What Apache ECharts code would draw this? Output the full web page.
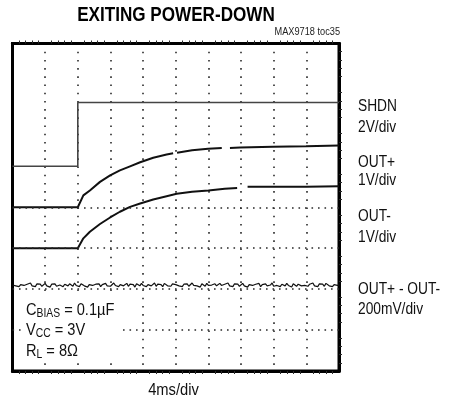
<!DOCTYPE html>
<html>
<head>
<meta charset="utf-8">
<script src="https://cdn.jsdelivr.net/npm/echarts@6/dist/echarts.min.js"></script>
<style>
html,body{margin:0;padding:0;background:#fff;}
#chart{width:453px;height:406px;}
</style>
</head>
<body>
<div id="chart"></div>
<script>
// Time axis in divisions (4 ms/div), vertical axis in divisions
var shdnT = [0, 2.0, 2.0, 10];
var shdnV = [5.0, 5.0, 6.56, 6.56];

var outPT = [0, 2.0, 2.17, 2.37, 2.68, 2.99, 3.29, 3.60, 3.91, 4.31, 4.72, 4.92, 4.98, 5.04, 5.5, 5.99, 6.41, 6.53, 6.66, 6.97, 7.98, 8.99, 10];
var outPV = [4.0, 4.0, 4.29, 4.41, 4.62, 4.78, 4.90, 5.00, 5.10, 5.21, 5.29, 5.32, null, 5.33, 5.39, 5.43, 5.45, null, 5.45, 5.46, 5.48, 5.49, 5.51];

var outMT = [0, 2.0, 2.17, 2.37, 2.68, 2.99, 3.29, 3.60, 3.91, 4.31, 4.72, 5.03, 5.5, 6.0, 6.5, 6.88, 7.04, 7.2, 8.0, 9.0, 10];
var outMV = [3.0, 3.0, 3.24, 3.40, 3.59, 3.75, 3.89, 4.01, 4.09, 4.19, 4.27, 4.33, 4.38, 4.41, 4.45, 4.47, null, 4.50, 4.50, 4.50, 4.51];

var diffStep = 0.05;
var diffV = [
2.10,2.13,2.08,2.12,2.06,2.11,2.14,2.09,2.07,2.12,2.10,2.15,2.08,2.11,2.06,2.13,2.09,2.12,2.07,2.10,
2.14,2.08,2.11,2.05,2.12,2.09,2.13,2.07,2.11,2.10,2.14,2.06,2.12,2.09,2.08,2.13,2.10,2.07,2.15,2.09,
2.11,2.06,2.13,2.10,2.08,2.12,2.05,2.11,2.14,2.09,2.07,2.12,2.10,2.13,2.06,2.11,2.09,2.14,2.08,2.12,
2.07,2.10,2.15,2.09,2.12,2.06,2.11,2.13,2.08,2.10,2.14,2.07,2.12,2.09,2.11,2.05,2.13,2.10,2.08,2.14,
2.09,2.12,2.06,2.11,2.13,2.08,2.10,2.15,2.07,2.12,2.09,2.11,2.06,2.14,2.10,2.08,2.12,2.07,2.13,2.09,
2.11,2.14,2.08,2.10,2.06,2.12,2.09,2.13,2.07,2.11,2.15,2.09,2.12,2.08,2.10,2.05,2.13,2.11,2.07,2.14,
2.09,2.12,2.10,2.06,2.13,2.08,2.11,2.14,2.09,2.07,2.12,2.10,2.15,2.08,2.11,2.06,2.13,2.09,2.12,2.07,
2.10,2.14,2.08,2.12,2.05,2.11,2.13,2.09,2.07,2.12,2.10,2.14,2.06,2.11,2.09,2.13,2.08,2.12,2.10,2.15,
2.07,2.11,2.09,2.13,2.06,2.12,2.10,2.08,2.14,2.09,2.11,2.05,2.13,2.10,2.07,2.12,2.14,2.08,2.11,2.09,
2.13,2.07,2.12,2.10,2.15,2.08,2.11,2.06,2.13,2.09,2.12,2.07,2.14,2.10,2.08,2.12,2.06,2.11,2.13,2.09,
2.11];

var hGridRows = [1, 2, 3, 4];

var rightLabels = ['SHDN', '2V/div', 'OUT+', '1V/div', 'OUT-', '1V/div', 'OUT+ - OUT-', '200mV/div'];
var rightLabelY = [107, 128, 163, 181, 217, 238, 289.5, 309.5];

var FONT = '"Liberation Sans", Arial, sans-serif';
var NARROW = 0.86;

function pairs(t, v) {
  return t.map(function (x, i) { return [x, v[i] === null ? '-' : v[i]]; });
}
var diffData = diffV.map(function (v, i) { return [+(i * diffStep).toFixed(2), v]; });

var chart = echarts.init(document.getElementById('chart'), null, {renderer: 'canvas'});

var dotColor = '#2a2a2a';
var frameLine = {show: true, onZero: false, lineStyle: {color: '#000', width: 3}};
var graphics = [
  {type: 'text', x: 176, y: 15, scaleX: 0.855, z: 60,
   style: {text: 'EXITING POWER-DOWN', font: 'bold 20px ' + FONT, fill: '#000',
           align: 'center', verticalAlign: 'middle'}},
  {type: 'text', x: 340, y: 32.5, scaleX: 0.92, z: 60,
   style: {text: 'MAX9718 toc35', font: '10px ' + FONT, fill: '#222',
           align: 'right', verticalAlign: 'middle'}},
  {type: 'text', x: 173.5, y: 391, scaleX: 0.92, z: 60,
   style: {text: '4ms/div', font: '16px ' + FONT, fill: '#111',
           align: 'center', verticalAlign: 'middle'}},
  {type: 'rect', z: 50, shape: {x: 22, y: 296, width: 100, height: 66},
   style: {fill: '#fff'}},
  {type: 'text', x: 26, y: 300, scaleX: NARROW, z: 60,
   style: {
     text: '{m|C}{s|BIAS}{m| = 0.1µF}\n{m|V}{s|CC}{m| = 3V}\n{m|R}{s|L}{m| = 8Ω}',
     verticalAlign: 'top',
     rich: {
       m: {fontSize: 17, fontFamily: FONT, fill: '#111', lineHeight: 20.5},
       s: {fontSize: 12, fontFamily: FONT, fill: '#111', lineHeight: 20.5, padding: [6, 0, 0, 0]}
     }
   }}
];
rightLabels.forEach(function (t, i) {
  graphics.push({type: 'text', x: 358, y: rightLabelY[i], scaleX: NARROW, z: 60,
    style: {text: t, font: '16px ' + FONT, fill: '#111', verticalAlign: 'middle'}});
});

chart.setOption({
  animation: false,
  backgroundColor: '#fff',
  grid: {left: 12.5, top: 43.5, width: 326.5, height: 327.5, show: true,
         borderColor: '#000', borderWidth: 3, backgroundColor: 'transparent'},
  xAxis: [{
    type: 'value', min: 0, max: 10, interval: 1, position: 'bottom',
    axisLine: frameLine, axisLabel: {show: false},
    axisTick: {show: false},
    minorTick: {show: true, splitNumber: 5, length: 3, lineStyle: {color: dotColor, width: 1}},
    splitLine: {show: true, lineStyle: {color: dotColor, width: 1.6, type: [1.6, 6.6]}}
  }, {
    type: 'value', min: 0, max: 10, interval: 1, position: 'top',
    axisLine: frameLine, axisLabel: {show: false},
    axisTick: {show: false},
    minorTick: {show: true, splitNumber: 5, length: 3, lineStyle: {color: dotColor, width: 1}},
    splitLine: {show: false}
  }],
  yAxis: [{
    type: 'value', min: 0, max: 8, interval: 1, position: 'left',
    axisLine: frameLine, axisLabel: {show: false}, axisTick: {show: false},
    splitLine: {show: false}
  }, {
    type: 'value', min: 0, max: 8, interval: 1, position: 'right',
    axisLine: frameLine, axisLabel: {show: false}, axisTick: {show: false},
    minorTick: {show: true, splitNumber: 5, length: 3, lineStyle: {color: dotColor, width: 1}},
    splitLine: {show: false}
  }],
  series: [
    {type: 'line', data: [], silent: true,
     markLine: {silent: true, symbol: 'none', label: {show: false},
       lineStyle: {color: dotColor, width: 1.6, type: [1.6, 4.9]},
       data: hGridRows.map(function (y) { return {yAxis: y}; })}},
    {name: 'SHDN', type: 'line', data: pairs(shdnT, shdnV), showSymbol: false,
     lineStyle: {color: '#444', width: 1.6}},
    {name: 'OUT+', type: 'line', data: pairs(outPT, outPV), showSymbol: false, connectNulls: false,
     lineStyle: {color: '#111', width: 2}},
    {name: 'OUT-', type: 'line', data: pairs(outMT, outMV), showSymbol: false, connectNulls: false,
     lineStyle: {color: '#111', width: 2}},
    {name: 'DIFF', type: 'line', data: diffData, showSymbol: false,
     lineStyle: {color: '#111', width: 1.2}}
  ],
  graphic: graphics
});
</script>
</body>
</html>
